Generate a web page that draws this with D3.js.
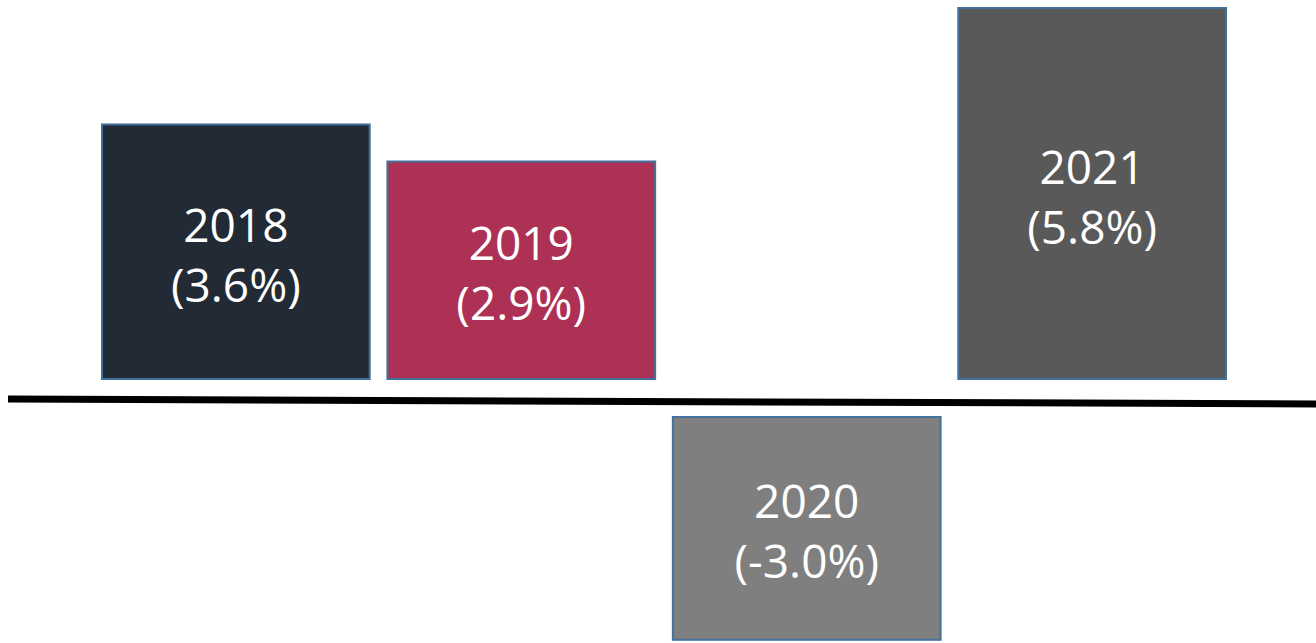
<!DOCTYPE html>
<html>
<head>
<meta charset="utf-8">
<script src="https://d3js.org/d3.v7.min.js"></script>
<style>
	body { margin: 0; background: #ffffff; }
	svg { display: block; }
	.barText { font-family: "Open Sans", sans-serif; font-size: 46px; fill: #ffffff; }
</style>
</head>
<body>
<script>
// data for the growth boxes
var years = ["2018", "2019", "2020", "2021"];
var growth = [3.6, 2.9, -3.0, 5.8];
var labels = ["(3.6%)", "(2.9%)", "(-3.0%)", "(5.8%)"];
var colors = ["#222a35", "#ad3055", "#7f7f7f", "#595959"];

window.onload = function() {

	var w = 1316;
	var h = 643;
	var leftMargin = 102;
	var rightMargin = 90;
	var baseY = 399;       // where the black zero line sits
	var gapAbove = 20;     // space between positive boxes and the line
	var gapBelow = 18;     // space between the line and negative boxes

	var svg = d3.select("body")
		.append("svg")
		.attr("width", w)
		.attr("height", h);

	// x positions of the boxes
	var scaleX = d3.scaleBand()
		.domain(years)
		.range([leftMargin, w - rightMargin])
		.paddingInner(0.062)
		.paddingOuter(0);

	// box height from the size of the growth number
	var scaleH = d3.scaleLinear()
		.domain([0, 5.8])
		.range([64, 371]);

	function boxTop(d) {
		if (d >= 0) { return baseY - gapAbove - scaleH(d); }
		return baseY + gapBelow;
	}

	var boxes = svg.selectAll(".box")
		.data(years)
		.enter()
		.append("g")
		.attr("class", "box");

	boxes.append("rect")
		.attr("x", function(d) { return scaleX(d); })
		.attr("y", function(d, i) { return boxTop(growth[i]); })
		.attr("width", scaleX.bandwidth())
		.attr("height", function(d, i) { return scaleH(Math.abs(growth[i])); })
		.attr("fill", function(d, i) { return colors[i]; })
		.attr("stroke", "#41719c")
		.attr("stroke-width", 2);

	// year + percentage text, centred in each box
	var txt = boxes.append("text")
		.attr("class", "barText")
		.attr("text-anchor", "middle")
		.attr("x", function(d) { return scaleX(d) + scaleX.bandwidth() / 2; })
		.attr("y", function(d, i) {
			return boxTop(growth[i]) + scaleH(Math.abs(growth[i])) / 2 - 10;
		});

	txt.append("tspan")
		.text(function(d) { return d; });

	txt.append("tspan")
		.attr("x", function(d) { return scaleX(d) + scaleX.bandwidth() / 2; })
		.attr("dy", 60)
		.text(function(d, i) { return labels[i]; });

	// zero line (slightly tilted like the original)
	svg.append("line")
		.attr("x1", 8)
		.attr("y1", baseY)
		.attr("x2", w)
		.attr("y2", baseY + 5)
		.attr("stroke", "#000000")
		.attr("stroke-width", 7);
};
</script>
</body>
</html>
